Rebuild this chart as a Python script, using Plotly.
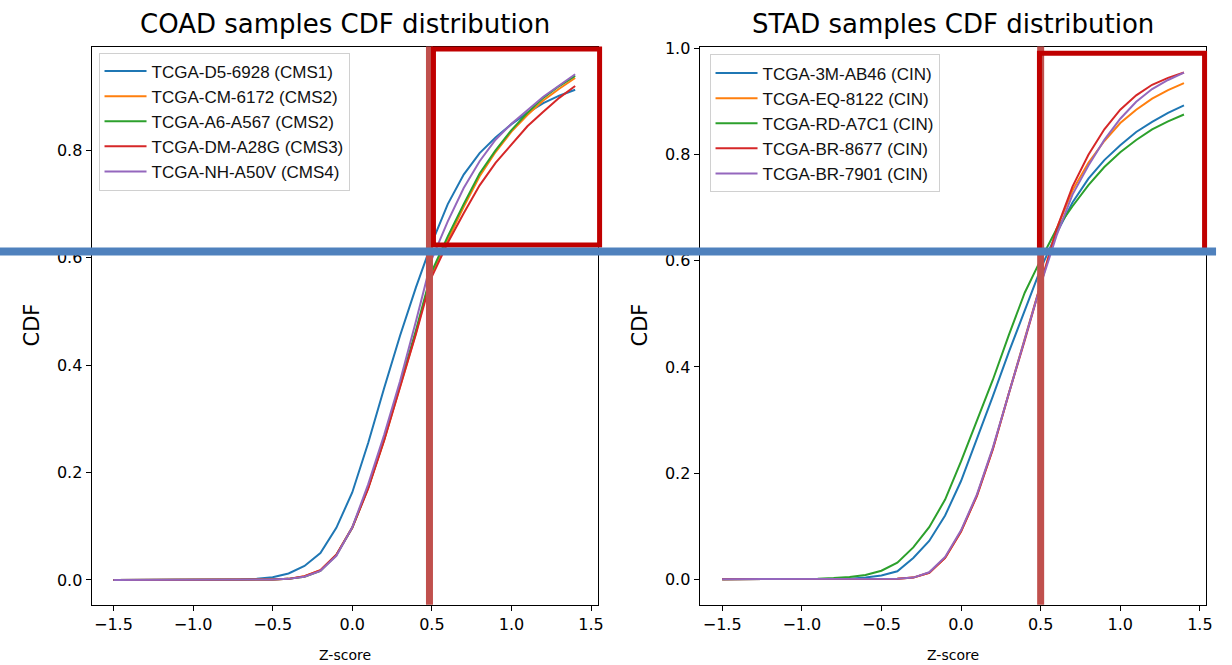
import plotly.graph_objects as go

# ---------------- data ----------------
z_score = [round(-1.5 + 0.1 * i, 1) for i in range(30)]  # -1.5 ... 1.4

coad_names = ["TCGA-D5-6928 (CMS1)", "TCGA-CM-6172 (CMS2)", "TCGA-A6-A567 (CMS2)",
              "TCGA-DM-A28G (CMS3)", "TCGA-NH-A50V (CMS4)"]
coad_d5_6928 = [0, 0, 0, 0, 0, 0, 0, 0, 0.001, 0.002, 0.005, 0.012, 0.026, 0.050, 0.097,
                0.163, 0.255, 0.357, 0.455, 0.545, 0.628, 0.700, 0.755, 0.795, 0.824,
                0.849, 0.870, 0.888, 0.902, 0.913]
coad_cm_6172 = [0, 0, 0, 0, 0, 0, 0, 0, 0, 0, 0.001, 0.002, 0.007, 0.018, 0.047,
                0.098, 0.172, 0.260, 0.360, 0.460, 0.572, 0.635, 0.695, 0.752, 0.797,
                0.835, 0.866, 0.893, 0.915, 0.935]
coad_a6_a567 = [0, 0, 0, 0, 0, 0, 0, 0, 0, 0, 0.001, 0.002, 0.006, 0.017, 0.046,
                0.097, 0.172, 0.262, 0.362, 0.465, 0.575, 0.640, 0.700, 0.757, 0.800,
                0.838, 0.870, 0.898, 0.920, 0.939]
coad_dm_a28g = [0, 0, 0, 0, 0, 0, 0, 0, 0, 0, 0.001, 0.002, 0.007, 0.018, 0.047,
                0.097, 0.170, 0.260, 0.358, 0.458, 0.565, 0.628, 0.683, 0.735, 0.777,
                0.812, 0.845, 0.872, 0.898, 0.920]
coad_nh_a50v = [0, 0, 0, 0, 0, 0, 0, 0, 0, 0, 0.001, 0.002, 0.006, 0.017, 0.045,
                0.098, 0.178, 0.270, 0.370, 0.482, 0.598, 0.668, 0.730, 0.780, 0.820,
                0.850, 0.875, 0.900, 0.921, 0.942]

stad_names = ["TCGA-3M-AB46 (CIN)", "TCGA-EQ-8122 (CIN)", "TCGA-RD-A7C1 (CIN)",
              "TCGA-BR-8677 (CIN)", "TCGA-BR-7901 (CIN)"]
stad_3m_ab46 = [0, 0, 0, 0, 0, 0, 0, 0, 0.001, 0.003, 0.007, 0.015, 0.040, 0.072, 0.120,
                0.185, 0.263, 0.345, 0.428, 0.507, 0.585, 0.652, 0.710, 0.755, 0.790,
                0.818, 0.843, 0.862, 0.879, 0.893]
stad_eq_8122 = [0, 0, 0, 0, 0, 0, 0, 0, 0, 0, 0, 0.001, 0.003, 0.012, 0.040,
                0.090, 0.158, 0.246, 0.350, 0.455, 0.560, 0.660, 0.733, 0.785, 0.826,
                0.860, 0.885, 0.906, 0.922, 0.935]
stad_rd_a7c1 = [0, 0, 0, 0, 0, 0, 0.001, 0.002, 0.004, 0.008, 0.016, 0.031, 0.060, 0.098,
                0.150, 0.222, 0.298, 0.376, 0.460, 0.540, 0.602, 0.660, 0.703, 0.743,
                0.777, 0.805, 0.828, 0.848, 0.863, 0.876]
stad_br_8677 = [0, 0, 0, 0, 0, 0, 0, 0, 0, 0, 0, 0.001, 0.003, 0.012, 0.040,
                0.090, 0.157, 0.245, 0.350, 0.450, 0.555, 0.660, 0.740, 0.800, 0.848,
                0.885, 0.912, 0.932, 0.945, 0.955]
stad_br_7901 = [0, 0, 0, 0, 0, 0, 0, 0, 0, 0, 0, 0.001, 0.003, 0.013, 0.042,
                0.092, 0.160, 0.248, 0.350, 0.452, 0.555, 0.648, 0.725, 0.780, 0.828,
                0.868, 0.900, 0.924, 0.941, 0.955]

coad_series = [coad_d5_6928, coad_cm_6172, coad_a6_a567, coad_dm_a28g, coad_nh_a50v]
stad_series = [stad_3m_ab46, stad_eq_8122, stad_rd_a7c1, stad_br_8677, stad_br_7901]
colors = ["#1f77b4", "#ff7f0e", "#2ca02c", "#d62728", "#9467bd"]

x_ticks = [-1.5, -1.0, -0.5, 0.0, 0.5, 1.0, 1.5]
coad_y_ticks = [0.0, 0.2, 0.4, 0.6, 0.8]
stad_y_ticks = [0.0, 0.2, 0.4, 0.6, 0.8, 1.0]
marker_x = [0.485, 0.5]       # highlighted Z-score cut (vertical band)
threshold_cdf = 0.612         # highlighted CDF level (horizontal line)

# ---------------- figure ----------------
W, H = 1232, 665
fig = go.Figure()

for name, ys, c in zip(coad_names, coad_series, colors):
    fig.add_trace(go.Scatter(x=z_score, y=ys, mode="lines", name=name,
                             line=dict(color=c, width=2), xaxis="x", yaxis="y",
                             legend="legend"))
for name, ys, c in zip(stad_names, stad_series, colors):
    fig.add_trace(go.Scatter(x=z_score, y=ys, mode="lines", name=name,
                             line=dict(color=c, width=2), xaxis="x2", yaxis="y2",
                             legend="legend2"))

tickfont = dict(family="DejaVu Sans", size=16, color="#000")
axis_common = dict(showline=True, linecolor="#000", linewidth=1, mirror=True,
                   ticks="outside", ticklen=5, tickwidth=1, tickcolor="#000",
                   showgrid=False, zeroline=False, tickfont=tickfont)

ydom = [61 / H, 625 / H]
legend_font = dict(family="Liberation Sans", size=17, color="#111")
fig.update_layout(
    width=W, height=H,
    margin=dict(l=0, r=0, t=0, b=0),
    paper_bgcolor="white", plot_bgcolor="white",
    xaxis=dict(domain=[92 / W, 601 / W], range=[-1.6375, 1.544], tickvals=x_ticks,
               tickformat=".1f", anchor="y", **axis_common),
    yaxis=dict(domain=ydom, range=[-0.046, 0.9935], tickvals=coad_y_ticks,
               tickformat=".1f", anchor="x", **axis_common),
    xaxis2=dict(domain=[703 / W, 1212 / W], range=[-1.642, 1.539], tickvals=x_ticks,
                tickformat=".1f", anchor="y2", **axis_common),
    yaxis2=dict(domain=ydom, range=[-0.048, 1.004], tickvals=stad_y_ticks,
                tickformat=".1f", anchor="x2", **axis_common),
    legend=dict(x=99 / W, y=1 - 46 / H, xanchor="left", yanchor="top",
                bgcolor="white", bordercolor="#d0d0d0", borderwidth=1,
                itemwidth=42, font=legend_font),
    legend2=dict(x=713 / W, y=1 - 48 / H, xanchor="left", yanchor="top",
                 bgcolor="white", bordercolor="#d0d0d0", borderwidth=1,
                 itemwidth=42, font=legend_font),
    showlegend=True,
)

ann = []
titles = ["COAD samples CDF distribution", "STAD samples CDF distribution"]
centers = [(92 + 601) / 2 / W, (703 + 1212) / 2 / W]
ylab_x = [32 / W, 643 / W]
for t, cx, yx in zip(titles, centers, ylab_x):
    ann.append(dict(text=t, x=cx, y=1 - 17 / H, xref="paper", yref="paper",
                    showarrow=False, xanchor="center", yanchor="middle",
                    font=dict(family="DejaVu Sans", size=26, color="#000")))
    ann.append(dict(text="Z-score", x=cx, y=1 - 655 / H, xref="paper", yref="paper",
                    showarrow=False, xanchor="center", yanchor="middle",
                    font=dict(family="DejaVu Sans", size=14, color="#000")))
    ann.append(dict(text="CDF", x=yx, y=1 - 321 / H, xref="paper", yref="paper",
                    showarrow=False, xanchor="center", yanchor="middle", textangle=-90,
                    font=dict(family="DejaVu Sans", size=21, color="#000")))
fig.update_layout(annotations=ann)

shapes = []
# vertical highlight bands
for xa, ya, mx in [("x", "y", marker_x[0]), ("x2", "y2", marker_x[1])]:
    shapes.append(dict(type="line", xref=xa, yref=ya + " domain", x0=mx, x1=mx,
                       y0=0, y1=1, line=dict(color="#C0504D", width=7), layer="above"))
# red highlight rectangles
shapes.append(dict(type="rect", xref="x domain", yref="y domain",
                   x0=0.675, x1=1.003, y0=0.6445, y1=0.9956,
                   line=dict(color="#C00000", width=5), fillcolor="rgba(0,0,0,0)",
                   layer="above"))
shapes.append(dict(type="rect", xref="x2 domain", yref="y2 domain",
                   x0=0.671, x1=0.997, y0=0.632, y1=0.988,
                   line=dict(color="#C00000", width=5), fillcolor="rgba(0,0,0,0)",
                   layer="above"))
# horizontal blue threshold line across both panels
shapes.append(dict(type="line", xref="paper", yref="y", x0=0, x1=1222 / W,
                   y0=threshold_cdf, y1=threshold_cdf,
                   line=dict(color="#4F81BD", width=8), layer="above"))
fig.update_layout(shapes=shapes)

fig.write_html("out.html",
               config={"displayModeBar": False},
               post_script="document.body.style.margin='0px';"
                           "document.body.style.overflow='hidden';")
